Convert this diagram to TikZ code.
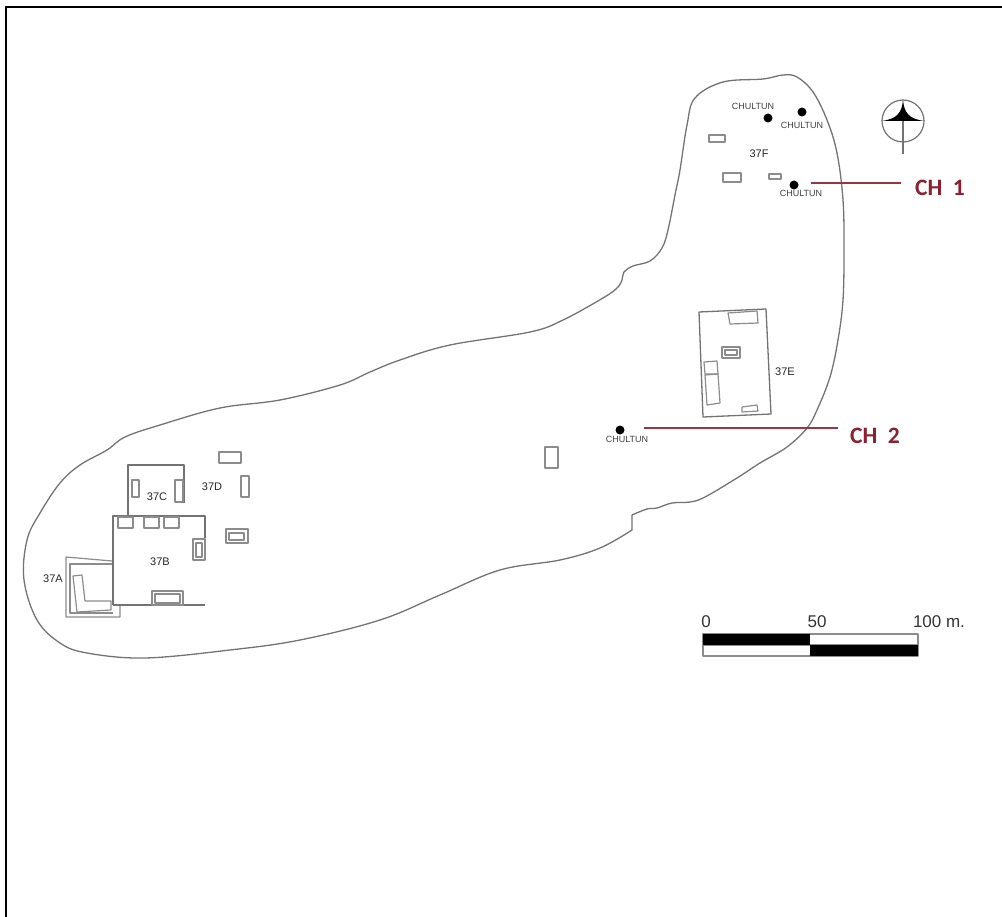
\documentclass[tikz,border=0pt]{standalone}
\usepackage{fontspec}
\setsansfont{Liberation Sans}
\newfontfamily\chfont{Carlito}
\usetikzlibrary{positioning}
\definecolor{chred}{HTML}{8C1F30}
\tikzset{every picture/.style={/utils/exec={\sffamily}}}
\tikzset{
  wall/.style={draw=black!55, line width=1.3pt, line join=round},
  room/.style={draw=black!45, line width=1.2pt, line join=round},
  leader/.style={draw=chred!90, line width=1.4pt},
  dot/.style={circle, fill=black, inner sep=0pt, minimum size=9pt},
  chultun/.style={font=\fontsize{9}{10}\selectfont, text=black!75, inner sep=0pt},
  grp/.style={font=\fontsize{11}{12}\selectfont, text=black!85, inner sep=0pt},
  chlab/.style={font=\fontsize{23.5}{26}\chfont\bfseries, text=chred, inner sep=0pt},
  scalelab/.style={font=\fontsize{17}{19}\selectfont, text=black!80, inner sep=0pt}
}

\begin{document}
\begin{tikzpicture}[x=1pt, y=-1pt]
  \useasboundingbox (0,0) rectangle (1002,917);

  \coordinate (fl) at (6,917);
  \coordinate (ft) at (6,7);
  \coordinate (fr) at (1002,7);
  \draw [line width=2pt] (fl) -- (ft) -- (fr);

  \draw [wall] plot [smooth, tension=0.6] coordinates {
    (632,530) (600,548)
    (560,560) (500,570) (440,595) (380,620) (300,640) (230,650) (145,658) (87,653)
    (60,643) (37,620) (24,580) (27,540) (40,513) (60,483) (80,465) (107,450) (125,437)
    (160,425) (220,408) (280,400) (340,385) (370,372) (400,360) (450,345) (530,332)
    (563,320) (603,298) (617,288) (622,280) (624,272) (633,266) (650,261) (662,248)
    (668,230) (675,195) (680,170) (687,125) (695,98) (723,82) (763,79)
    (783,75) (797,77) (813,92) (827,120) (837,153) (843,200) (844,250) (843,300)
    (838,340) (830,377) (817,410) (807,428) (787,447) (760,463) (737,478) (705,497)
    (690,502) (672,503) (657,508) (647,509) (632,515)} -- cycle;

  % 37A
  \draw [room] (112,561) -- (66,557) -- (66,617) -- (120,617) -- (120,605);
  \draw [room] (112,564) -- (70,564) -- (70,613) -- (113,613);
  \draw [room] (73,576) -- (82,575) -- (85,601) -- (111,601) -- (111,610) -- (77,612) -- cycle;

  % 37B, 37C
  \draw [wall] (113,605) -- (113,516) -- (205,516) -- (205,538);
  \draw [wall] (113,605) -- (205,605);
  \draw [wall] (128,516) -- (128,465) -- (184,465) -- (184,503);

  \foreach \xa/\ya/\xb/\yb in {118/517/133/528, 144/517/159/528, 164/517/179/528,
      132/480/139/497, 175/480/183/502, 219/452/241/463, 241/476/249/497,
      193/539/205/560, 196/543/202/557, 226/529/248/543, 229/533/244/540,
      152/591/183/605, 155/594/180/603, 545/447/558/468,
      709/135/725/142, 723/173/741/182, 769/174/781/179,
      722/347/740/358, 725/350/737/355}
    \draw [room] (\xa,\ya) rectangle (\xb,\yb);

  % 37E
  \draw [wall] (699,312) -- (766,309) -- (771,414) -- (703,417) -- cycle;
  \draw [room] (728,313) -- (757,311) -- (758,323) -- (730,324) -- cycle;
  \draw [room] (704,362) -- (717,361) -- (718,374) -- (705,374) -- cycle;
  \draw [room] (705,375) -- (718,374) -- (720,403) -- (707,405) -- cycle;
  \draw [room] (742,407) -- (757,405) -- (758,411) -- (742,412) -- cycle;

  \node [grp] (a) at (53,579) {37A};
  \node [grp] (b) at (160,562) {37B};
  \node [grp] (c) at (157,497) {37C};
  \node [grp] (d) at (212,487) {37D};
  \node [grp] (e) at (785,372) {37E};
  \node [grp] (f) at (759,154) {37F};

  \node [dot] (dota) at (768,118) {};
  \node [dot] (dotb) at (802,112) {};
  \node [dot] (dotc) at (794,185) {};
  \node [dot] (dotd) at (620,430) {};
  \node [chultun] (chula) at (753,106) {CHULTUN};
  \node [chultun] (chulb) at (802,125) {CHULTUN};
  \node [chultun] (chulc) at (801,193) {CHULTUN};
  \node [chultun] (chuld) at (627,439) {CHULTUN};

  \coordinate (cha) at (811,183);
  \coordinate (chb) at (901,183);
  \draw [leader] (cha) -- (chb);
  \node [chlab] (chone) at (940,188) {CH\ \ 1};

  \coordinate (chc) at (644,428);
  \coordinate (chd) at (838,428);
  \draw [leader] (chc) -- (chd);
  \node [chlab] (chtwo) at (875,436) {CH\ \ 2};

  % north
  \node [circle, draw=black!55, line width=1.2pt, inner sep=0pt, minimum size=42pt] (north) at (903,121) {};
  \coordinate (stem) at (903,154);
  \draw [wall] (north.center) -- (stem);
  \fill (north.north) .. controls (902,113) and (897,119) .. (north.west)
    -- (north.east) .. controls (909,119) and (904,113) .. (north.north);

  % scale bar
  \draw [room, fill=white] (703,634) rectangle (918,656);
  \draw [room] (703,645) -- (918,645);
  \fill (703,634) rectangle (810,645);
  \fill (810,645) rectangle (918,656);
  \node [scalelab] (sa) at (706,622) {0};
  \node [scalelab] (sb) at (817,622) {50};
  \node [scalelab] (sc) at (939,622) {100 m.};

\end{tikzpicture}
\end{document}
